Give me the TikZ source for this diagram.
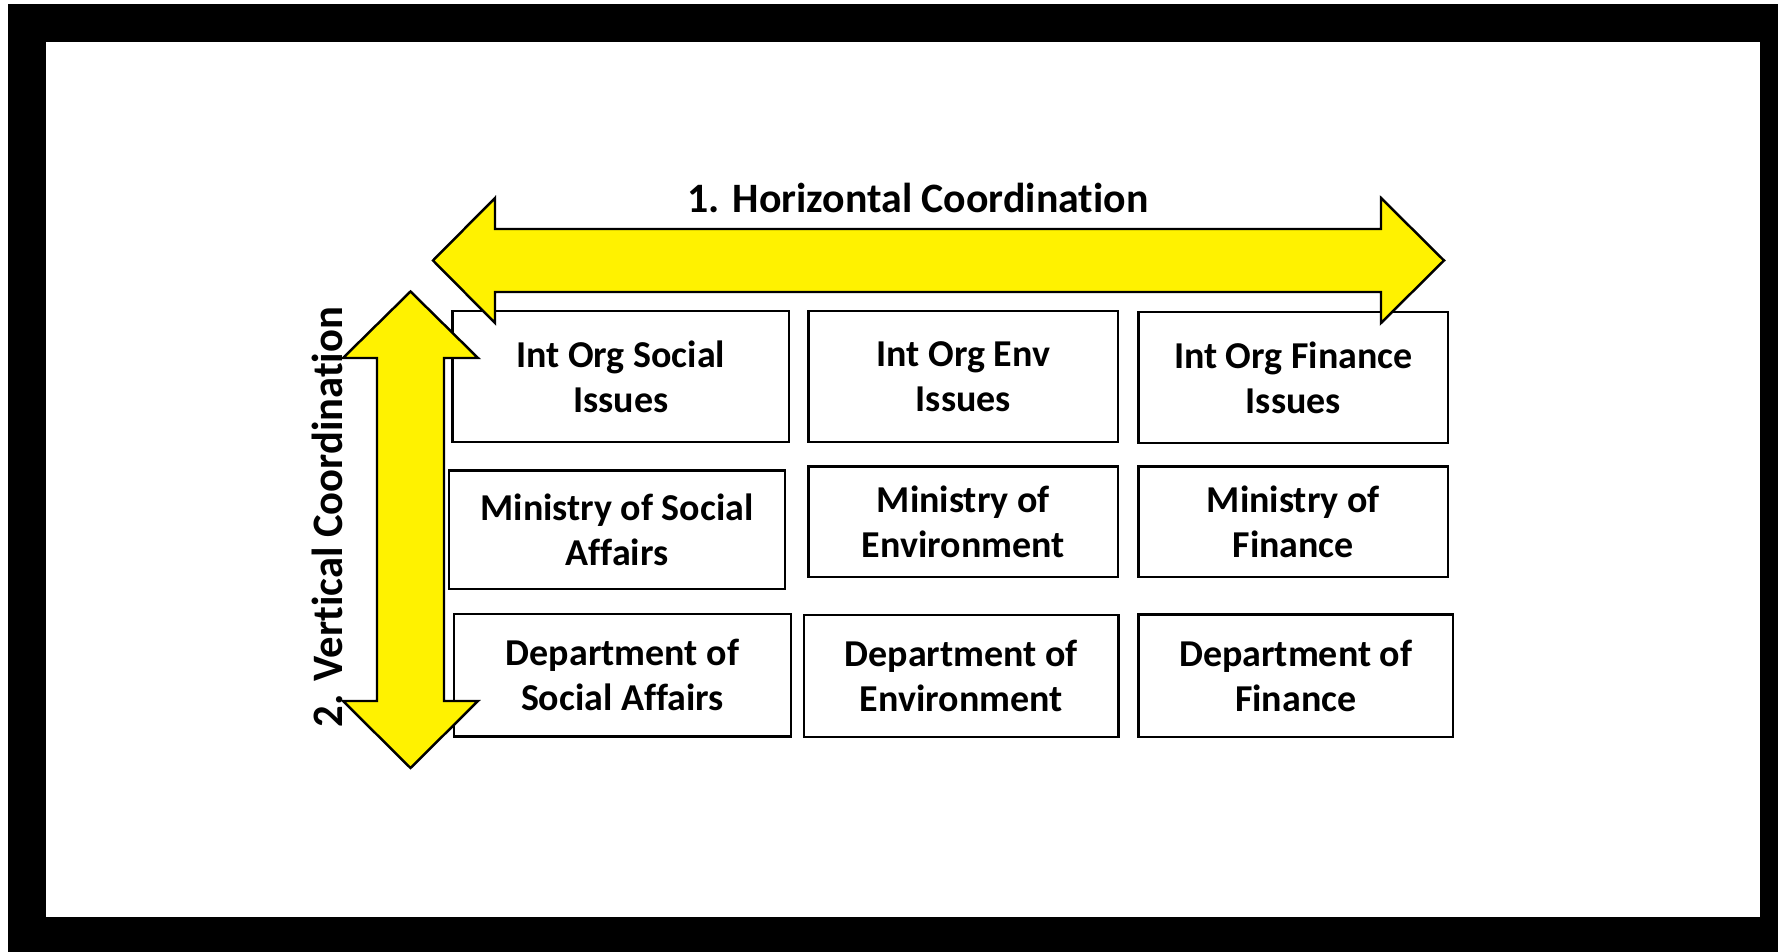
\documentclass[tikz,border=0pt]{standalone}
\usepackage{fontspec}
\setmainfont{Carlito}[Ligatures=NoCommon]

\begin{document}
\begin{tikzpicture}[x=0.01cm, y=-0.01cm, line width=0.7pt,
  every node/.style={font=\bfseries\fontsize{10.8}{12.8}\selectfont, align=center},
  office/.style={draw, fill=white, inner sep=0pt},
  bigarrow/.style={draw, fill=yellow, line join=miter}]

% frame
\fill[white] (0,0) rectangle (1778,952);
\fill[black] (8,4) rectangle (1778,952);
\fill[white] (46,42) rectangle (1760,917);
\useasboundingbox (0,0) rectangle (1778,952);

% international organisations
\node[office, minimum width=3.365cm, minimum height=1.31cm] (intsoc) at (620.75,376.5) {Int Org Social\\Issues};
\node[office, minimum width=3.095cm, minimum height=1.31cm] (intenv) at (963.25,376.5) {Int Org Env\\Issues};
\node[office, minimum width=3.095cm, minimum height=1.31cm] (intfin) at (1293.25,377.5) {Int Org Finance\\Issues};

% ministries
\node[office, minimum width=3.36cm, minimum height=1.183cm] (minsoc) at (617,529.9) {Ministry of Social\\Affairs};
\node[office, minimum width=3.095cm, minimum height=1.105cm] (minenv) at (963.25,521.75) {Ministry of\\Environment};
\node[office, minimum width=3.095cm, minimum height=1.105cm] (minfin) at (1293.25,521.75) {Ministry of\\Finance};

% departments
\node[office, minimum width=3.37cm, minimum height=1.222cm] (depsoc) at (622.5,675.4) {Department of\\Social Affairs};
\node[office, minimum width=3.145cm, minimum height=1.22cm] (depenv) at (961.25,676) {Department of\\Environment};
\node[office, minimum width=3.145cm, minimum height=1.225cm] (depfin) at (1295.75,675.75) {Department of\\Finance};

% horizontal arrow
\draw[bigarrow] (433,260.5) -- (495,198) -- (495,229) -- (1381,229) -- (1381,198) -- (1444,260.5)
  -- (1381,323) -- (1381,292) -- (495,292) -- (495,323) -- cycle;

% vertical arrow
\draw[bigarrow] (410.5,291.5) -- (478,358) -- (444,358) -- (444,701) -- (478,701) -- (410.5,768)
  -- (343,701) -- (377,701) -- (377,358) -- (343,358) -- cycle;

% lables
\node[anchor=base, font=\bfseries\fontsize{11.9}{14}\selectfont] (hortitle) at (918,212.5) {1. Horizontal Coordination};
\node[anchor=base, rotate=90, xscale=1.01, yscale=1.03, font=\bfseries\fontsize{12}{14}\selectfont] (vertitle) at (342,517) {2. Vertical Coordination};

\end{tikzpicture}
\end{document}
